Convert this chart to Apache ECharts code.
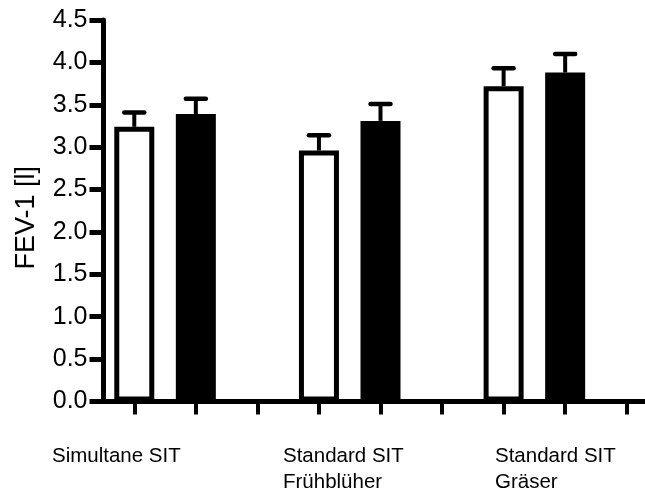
<!DOCTYPE html>
<html>
<head>
<meta charset="utf-8">
<script src="https://cdn.jsdelivr.net/npm/echarts@6/dist/echarts.min.js"></script>
<style>
html,body{margin:0;padding:0;background:#fff;}
#chart{width:645px;height:491px;}
</style>
</head>
<body>
<div id="chart"></div>
<script>
// Data
var groups = ['Simultane SIT', 'Standard SIT\nFrühblüher', 'Standard SIT\nGräser'];
var whiteValues = [3.24, 2.96, 3.72];
var blackValues = [3.39, 3.31, 3.88];
var whiteErrTop = [3.41, 3.14, 3.93];
var blackErrTop = [3.57, 3.51, 4.10];

// Build slots: white, black, gap per group
var slots = [], barData = [], errData = [];
groups.forEach(function (g, i) {
  slots.push(g + '|w', g + '|b', g + '|gap');
  barData.push({ value: whiteValues[i], itemStyle: { color: '#fff' } });
  barData.push({ value: blackValues[i], itemStyle: { color: '#000' } });
  barData.push({ value: '-' });
  errData.push([i * 3, whiteValues[i], whiteErrTop[i]]);
  errData.push([i * 3 + 1, blackValues[i], blackErrTop[i]]);
});

var chart = echarts.init(document.getElementById('chart'));
var font = 'Liberation Sans, Arial, Helvetica, sans-serif';
var option = {
  animation: false,
  grid: { left: 103.5, right: -12.5, top: 20, bottom: 89.5, containLabel: false, outerBoundsMode: 'none' },
  xAxis: {
    type: 'category',
    data: slots,
    boundaryGap: true,
    axisLine: { show: true, lineStyle: { color: '#000', width: 5 } },
    axisTick: { show: true, interval: 0, alignWithLabel: true, inside: false, length: 13,
      lineStyle: { color: '#000', width: 4 } },
    axisLabel: { show: true, interval: 0, color: 'rgba(0,0,0,0)', fontSize: 1, formatter: function () { return ' '; } },
    splitLine: { show: false }
  },
  yAxis: {
    type: 'value',
    min: 0, max: 4.5, interval: 0.5,
    name: 'FEV-1 [l]',
    nameLocation: 'middle',
    nameGap: 63,
    nameRotate: 90,
    nameTextStyle: { fontFamily: font, fontSize: 27, color: '#000', padding: [0, 14, 0, 0] },
    axisLine: { show: true, lineStyle: { color: '#000', width: 5 } },
    axisTick: { show: true, inside: false, length: 14, lineStyle: { color: '#000', width: 5 } },
    axisLabel: {
      margin: 16, color: '#000', fontFamily: font, fontSize: 25,
      formatter: function (v) { return v.toFixed(1); }
    },
    splitLine: { show: false }
  },
  series: [
    {
      type: 'bar',
      data: barData,
      barWidth: 40,
      itemStyle: { borderColor: '#000', borderWidth: 5 }
    },
    {
      type: 'custom',
      data: errData,
      z: 1,
      renderItem: function (params, api) {
        var base = api.coord([api.value(0), api.value(1)]);
        var top = api.coord([api.value(0), api.value(2)]);
        var half = 10;
        return {
          type: 'group',
          children: [
            { type: 'line', shape: { x1: base[0], y1: base[1], x2: top[0], y2: top[1] },
              style: { stroke: '#000', lineWidth: 4 } },
            { type: 'line', shape: { x1: top[0] - half, y1: top[1], x2: top[0] + half, y2: top[1] },
              style: { stroke: '#000', lineWidth: 4.5, lineCap: 'round' } }
          ]
        };
      }
    }
  ]
};
chart.setOption(option);

// group labels placed under the axis (left-aligned text blocks)
var labelX = [52, 283, 495];
chart.setOption({
  graphic: groups.map(function (g, i) {
    return {
      type: 'text', left: labelX[i], top: 444,
      style: { text: g, fontFamily: font, fontSize: 20.5, lineHeight: 25.5, fill: '#000' }
    };
  })
});
</script>
</body>
</html>
